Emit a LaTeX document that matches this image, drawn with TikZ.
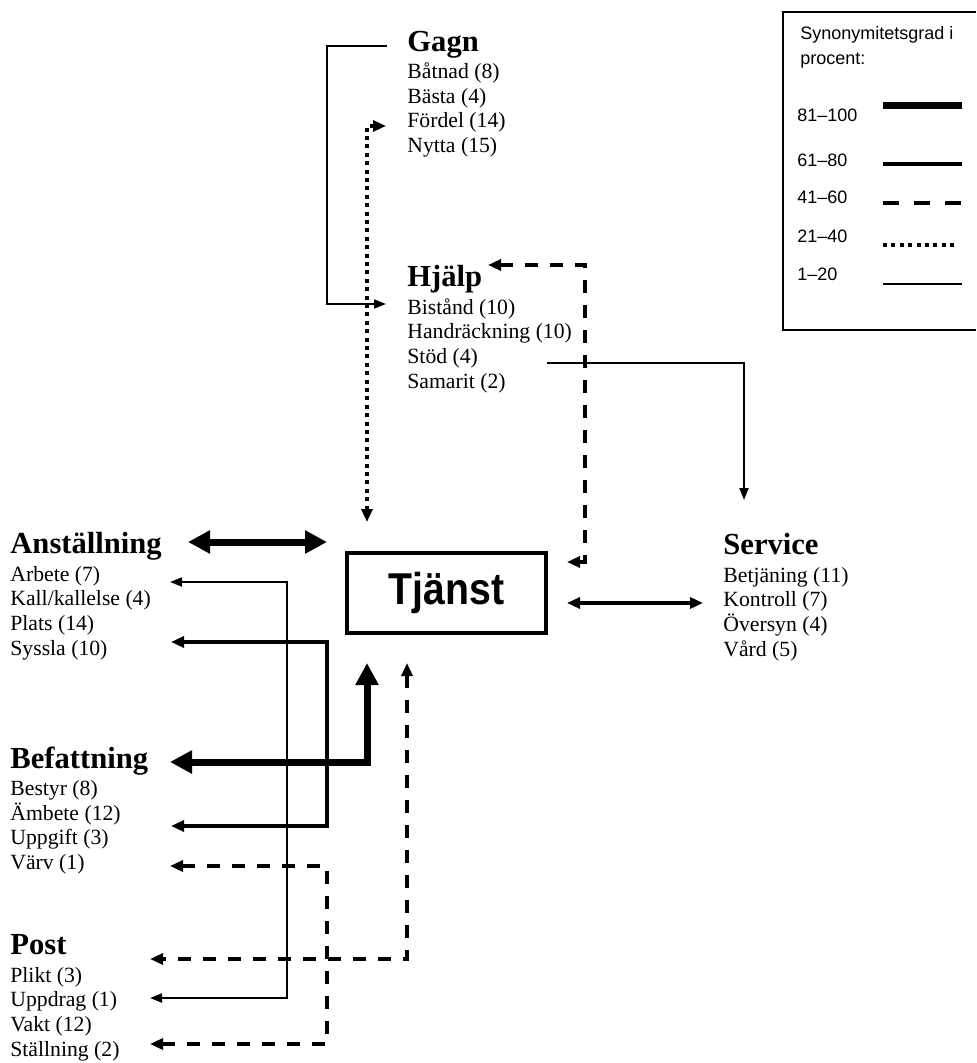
\documentclass[tikz,border=0pt]{standalone}
\usepackage{fontspec}
\setmainfont{Liberation Serif}
\setsansfont{Liberation Sans}
\usepackage{graphicx}
\usetikzlibrary{arrows.meta, positioning}

\newcommand{\headtxt}[1]{{\fontsize{15.3}{16}\selectfont\bfseries #1}}

\begin{document}
\begin{tikzpicture}[x=0.5pt, y=-0.5pt,
  listnode/.style={align=left, anchor=base west, inner sep=0pt, font=\fontsize{10.85}{12.3}\selectfont},
  boxnode/.style={draw, line width=1.6pt, minimum width=99.5pt, minimum height=40pt, inner sep=0pt, font=\sffamily\bfseries\fontsize{22.3}{24}\selectfont},
  legendnode/.style={align=left, anchor=base west, inner sep=0pt, font=\sffamily\fontsize{9}{12.5}\selectfont},
  thickline/.style={line width=3.5pt, >={Triangle[length=11pt, width=11pt]}},
  midline/.style={line width=1.75pt, >={Triangle[length=6.5pt, width=5.5pt]}},
  dashline/.style={line width=2pt, dash pattern=on 6.5pt off 6pt, >={Triangle[length=6.5pt, width=5.5pt]}},
  dotline/.style={line width=2pt, dash pattern=on 2pt off 2.2pt, >={Triangle[length=6.5pt, width=5.5pt]}},
  thinline/.style={line width=1pt, >={Triangle[length=6pt, width=4.5pt]}}]
\useasboundingbox (0,0) rectangle (976,1063);

% word groups (placed at the baseline of their last line)
\node (gagn) [listnode] at (407,152.5) {\headtxt{Gagn}\\[1.5pt] Båtnad (8)\\ Bästa (4)\\ Fördel (14)\\ Nytta (15)};
\node (hjalp) [listnode] at (407,388) {\headtxt{Hjälp}\\[1.5pt] Bistånd (10)\\ Handräckning (10)\\ Stöd (4)\\ Samarit (2)};
\node (anst) [listnode] at (10,655) {\headtxt{Anställning}\\[1.5pt] Arbete (7)\\ Kall/kallelse (4)\\ Plats (14)\\ Syssla (10)};
\node (befatt) [listnode] at (10,869.5) {\headtxt{Befattning}\\[1.5pt] Bestyr (8)\\ Ämbete (12)\\ Uppgift (3)\\ Värv (1)};
\node (post) [listnode] at (10,1056) {\headtxt{Post}\\[1.5pt] Plikt (3)\\ Uppdrag (1)\\ Vakt (12)\\ Ställning (2)};
\node (service) [listnode] at (723,656) {\headtxt{Service}\\[1.5pt] Betjäning (11)\\ Kontroll (7)\\ Översyn (4)\\ Vård (5)};
\node (tjanst) [boxnode] at (446.5,593) {\scalebox{0.88}[1]{Tjänst}};

% connector ends
\coordinate (gagnend) at (387,46);
\coordinate (bistand) at (386,304);
\coordinate (stod) at (547,363);
\coordinate (servtop) at (744,500);
\coordinate (arbete) at (170,582);
\coordinate (uppdrag) at (150,998);
\coordinate (syssla) at (171,642);
\coordinate (uppgift) at (171,826);
\coordinate (tjright) at (567,603);
\coordinate (servleft) at (703,603);
\coordinate (anstright) at (188,542);
\coordinate (tjleft) at (327,542);
\coordinate (befright) at (170,762);
\coordinate (tjbottom) at (367,663);
\coordinate (tjcorner) at (567,562);
\coordinate (hjalphead) at (488,265);
\coordinate (tjbottomb) at (407,663);
\coordinate (plikt) at (150,959);
\coordinate (varv) at (170,866);
\coordinate (stallning) at (150,1044);
\coordinate (fordel) at (386,126);
\coordinate (tjtop) at (367,522);

% 81-100
\draw [thickline, <->] (anstright) -- (tjleft);
\draw [thickline, <->] (befright) -| (tjbottom);
% 61-80
\draw [midline, <->] (syssla) -- ++(156,0) |- (uppgift);
\draw [midline, <->] (tjright) -- (servleft);
% 41-60
\draw [dashline, <->] (tjcorner) -- ++(18,0) |- (hjalphead);
\draw [dashline, <->] (tjbottomb) |- (plikt);
\draw [dashline, <->] (varv) -- ++(157,0) |- (stallning);
% 21-40
\draw [dotline, <->] (fordel) -| (tjtop);
% 1-20
\draw [thinline, ->] (gagnend) -- ++(-60,0) |- (bistand);
\draw [thinline, ->] (stod) -| (servtop);
\draw [thinline, <->] (arbete) -- ++(117,0) |- (uppdrag);

% legend
\draw [line width=0.75pt] (976,12) -| (783,330) -- (976,330);
\node (legtitle) [legendnode] at (800,65) {Synonymitetsgrad i\\procent:};
\node (leg100) [legendnode] at (797,122) {81–100};
\node (leg80) [legendnode] at (797,167) {61–80};
\node (leg60) [legendnode] at (797,204) {41–60};
\node (leg40) [legendnode] at (797,243) {21–40};
\node (leg20) [legendnode] at (797,281) {1–20};
\draw [thickline] (883,106) -- (962,106);
\draw [midline] (883,164) -- (962,164);
\draw [dashline, dash pattern=on 8pt off 7.5pt] (883,203) -- (962,203);
\draw [dotline] (883,245) -- (958,245);
\draw [thinline] (883,284) -- (962,284);

\end{tikzpicture}
\end{document}
